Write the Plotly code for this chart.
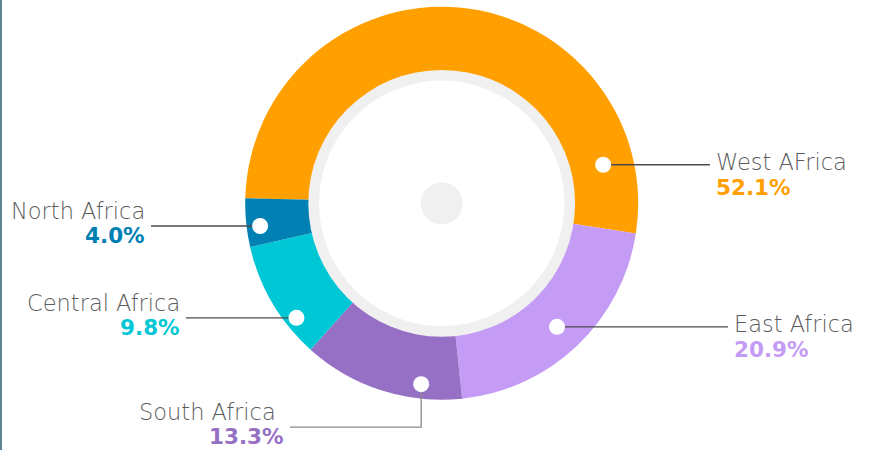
import numpy as np
import plotly.graph_objects as go

# Regional shares (%)
regions = ["West AFrica", "East Africa", "South Africa", "Central Africa", "North Africa"]
shares = [52.1, 20.9, 13.3, 9.8, 4.0]
colors = ["#ff9f00", "#c59cf5", "#9570c5", "#00c7d6", "#0080b3"]

# Canvas and donut geometry (pixels)
W, H = 870, 450
CX, CY = 441.7, 203.3
R_OUT = 196.5
R_HOLE = 131.0
RING_OUT, RING_IN = 133.4, 122.7
DOT_R = 21
ROTATION = -88.5  # degrees clockwise from 12 o'clock where the first slice starts

# Callout layout: (position within slice 0..1, anchor radius, side, text x, elbow drop, name shift)
callouts = [
    (0.881, 166, "right", 714, 0, 0),
    (0.507, 169, "right", 732, 0, 0),
    (0.260, 182, "left", 286, 43, -8),
    (0.280, 185, "left", 182, 0, 0),
    (0.400, 183, "left", 147, 0, 0),
]

NAME_FONT = "DejaVu Sans"
PCT_FONT = "DejaVu Sans"
NAME_COLOR = "#5c5c5c"
LINE_COLOR = "#4a4a4a"


def px(x):
    return x / W


def py(y):
    return 1 - y / H


total = sum(shares)
spans = [s / total * 360 for s in shares]
starts = ROTATION + np.concatenate([[0], np.cumsum(spans)[:-1]])

fig = go.Figure()
fig.add_trace(go.Pie(
    labels=regions,
    values=shares,
    sort=False,
    direction="clockwise",
    rotation=ROTATION,
    hole=R_HOLE / R_OUT,
    marker=dict(colors=colors, line=dict(width=0)),
    textinfo="none",
    hoverinfo="label+percent",
    showlegend=False,
    domain=dict(x=[px(CX - R_OUT), px(CX + R_OUT)],
                y=[py(CY + R_OUT), py(CY - R_OUT)]),
))

shapes = []


def circle(cx, cy, r, color):
    shapes.append(dict(type="circle", xref="paper", yref="paper",
                       x0=px(cx - r), x1=px(cx + r), y0=py(cy + r), y1=py(cy - r),
                       fillcolor=color, line=dict(width=0), layer="above"))


# inner grey ring, white face and centre dot
circle(CX, CY, RING_OUT, "#f0f0f0")
circle(CX, CY, RING_IN, "#ffffff")
circle(CX, CY, DOT_R, "#f0f0f0")

annotations = []
for name, share, col, start, span, (frac, rad, side, tx, drop, nshift) in zip(
        regions, shares, colors, starts, spans, callouts):
    ang = np.radians(start + frac * span)
    dx = CX + rad * np.sin(ang)
    dy = CY - rad * np.cos(ang)
    ly = dy + drop
    lcol = "#8a8a8a" if drop else LINE_COLOR
    end_x = tx - 4 if side == "right" else tx + 4
    if drop:
        path = f"M {px(dx)},{py(dy)} L {px(dx)},{py(ly)} L {px(end_x)},{py(ly)}"
    else:
        path = f"M {px(dx)},{py(dy)} L {px(end_x)},{py(ly)}"
    shapes.append(dict(type="path", xref="paper", yref="paper", path=path,
                       line=dict(color=lcol, width=1.3), layer="above"))
    circle(dx, dy, 8, "#ffffff")

    if side == "right":
        name_y, pct_y, anchor = ly - 3, ly + 23, "left"
    else:
        name_y, pct_y, anchor = ly - 15, ly + 9.5, "right"
    annotations.append(dict(x=px(tx + nshift), y=py(name_y), xref="paper", yref="paper",
                            text=name, showarrow=False, xanchor=anchor, yanchor="middle",
                            font=dict(family=NAME_FONT, size=22.5, color=NAME_COLOR, weight=200)))
    annotations.append(dict(x=px(tx), y=py(pct_y), xref="paper", yref="paper",
                            text=f"{share:.1f}%", showarrow=False, xanchor=anchor,
                            yanchor="middle",
                            font=dict(family=PCT_FONT, size=21.5, color=col, weight=700)))

# thin rule on the left edge
shapes.append(dict(type="line", xref="paper", yref="paper", x0=px(1), x1=px(1), y0=0, y1=1,
                   line=dict(color="#5f8497", width=2), layer="above"))

fig.update_layout(
    width=W, height=H,
    margin=dict(l=0, r=0, t=0, b=0),
    paper_bgcolor="#ffffff",
    plot_bgcolor="#ffffff",
    shapes=shapes,
    annotations=annotations,
)

fig.write_html("out.html")
